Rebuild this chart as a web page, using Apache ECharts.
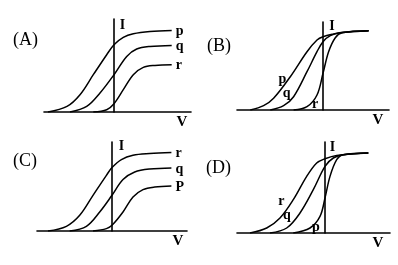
<!DOCTYPE html>
<html>
<head>
<meta charset="utf-8">
<script src="https://cdn.jsdelivr.net/npm/echarts@6/dist/echarts.min.js"></script>
<style>html,body{margin:0;padding:0;background:#fff}#c{width:398px;height:265px}</style>
</head>
<body>
<div id="c"></div>
<script>
// Panel titles
var panelTitles = ['(A)', '(B)', '(C)', '(D)'];
// Curve names per panel
var namesA = ['p', 'q', 'r'];
var namesB = ['p', 'q', 'r'];
var namesC = ['r', 'q', 'P'];
var namesD = ['r', 'q', 'p'];
// Curves, [V, I] in arbitrary units
var aP = [[-6.6,0],[-4.7,0.56],[-3.4,1.73],[-2.07,3.73],[-0.73,5.73],[0,6.73],[0.93,7.46],[1.93,7.83],[3.6,8.06],[5.77,8.16]];
var aQ = [[-4.4,0],[-2.73,0.56],[-1.4,1.9],[0,3.73],[1.27,5.56],[2.27,6.3],[3.6,6.56],[5.77,6.66]];
var aR = [[-2.07,0],[-0.73,0.23],[0,0.83],[0.93,2.23],[1.93,3.73],[2.93,4.46],[4.1,4.66],[5.77,4.73]];

var bP = [[-7.27,0],[-5.94,0.43],[-4.94,1.17],[-3.27,3.33],[-1.6,5.83],[-0.6,7.0],[0,7.33],[1.06,7.6],[2.06,7.77],[4.56,7.93]];
var bQ = [[-5.27,0],[-3.94,0.43],[-2.94,1.33],[-1.6,3.83],[-0.6,5.83],[0,6.83],[0.73,7.43],[1.73,7.73],[4.56,7.93]];
var bR = [[-2.94,0],[-1.6,0.33],[-0.6,1.5],[0,3.67],[0.56,5.83],[1.23,7.23],[1.9,7.73],[4.56,7.93]];

var cR = [[-6.4,0],[-4.56,0.47],[-3.23,1.57],[-1.9,3.57],[-0.56,5.57],[0,6.34],[0.94,7.14],[2.1,7.57],[3.77,7.74],[5.94,7.84]];
var cQ = [[-4.23,0],[-2.56,0.47],[-1.23,1.9],[0,3.57],[1.1,5.14],[2.27,5.9],[3.77,6.2],[5.94,6.3]];
var cP = [[-1.9,0],[-0.56,0.24],[0,0.57],[1.1,1.9],[2.1,3.4],[3.1,4.14],[4.27,4.4],[5.94,4.5]];

var dR = [[-7.5,0],[-5.83,0.5],[-4.5,1.5],[-3.17,3.33],[-1.83,5.66],[-0.83,7.0],[0,7.43],[1.17,7.76],[4.33,8.0]];
var dQ = [[-5.5,0],[-3.83,0.5],[-2.5,2.0],[-1.17,4.33],[0,6.66],[0.83,7.5],[1.83,7.83],[4.33,8.0]];
var dP = [[-3.17,0],[-1.5,0.5],[-0.5,1.66],[0,3.5],[0.5,5.66],[1.17,7.33],[1.83,7.83],[4.33,8.0]];

var SERIF = 'Liberation Serif';

var grids = [
  {left: 44, top: 19, width: 147, height: 93},
  {left: 237, top: 22, width: 152, height: 88},
  {left: 37, top: 142, width: 150, height: 89},
  {left: 237, top: 142, width: 153, height: 91}
];
var xr = [[-7.0, 7.7], [-8.6, 6.6], [-7.5, 7.5], [-8.8, 6.5]];
var yr = [9.3, 8.8, 8.9, 9.1];
var vGap = [-9, -11, -9, -12];
var iPad = [[0,0,0,17],[0,0,0,18],[0,0,0,19],[0,0,0,15]];
var iGap = [1, 3, 3, 2];

var xAxes = [], yAxes = [];
for (var i = 0; i < 4; i++) {
  xAxes.push({
    type: 'value', gridIndex: i, min: xr[i][0], max: xr[i][1],
    axisLine: {show: true, onZero: false, lineStyle: {color: '#000', width: 1.6}},
    axisTick: {show: false}, axisLabel: {show: false}, splitLine: {show: false},
    name: 'V', nameLocation: 'end', nameGap: vGap[i],
    nameTextStyle: {fontFamily: SERIF, fontWeight: 'bold', fontSize: 15, color: '#000',
      align: 'center', verticalAlign: 'top', padding: [3, 0, 0, 0]}
  });
  yAxes.push({
    type: 'value', gridIndex: i, min: 0, max: yr[i],
    axisLine: {show: true, onZero: true, lineStyle: {color: '#000', width: 1.6}},
    axisTick: {show: false}, axisLabel: {show: false}, splitLine: {show: false},
    name: 'I', nameLocation: 'end', nameGap: iGap[i],
    nameTextStyle: {fontFamily: SERIF, fontWeight: 'bold', fontSize: 14, color: '#000',
      align: 'center', verticalAlign: 'top', padding: iPad[i]}
  });
}

function curve(gi, name, data, extra) {
  var s = {
    type: 'line', name: name, xAxisIndex: gi, yAxisIndex: gi, data: data,
    smooth: 0.35, showSymbol: false, symbol: 'none',
    lineStyle: {color: '#000', width: 1.5}, silent: true
  };
  for (var k in extra) s[k] = extra[k];
  return s;
}
function endLbl() {
  return {endLabel: {show: true, formatter: '{a}', distance: 4, offset: [0, 1],
    fontFamily: SERIF, fontWeight: 'bold', fontSize: 14, color: '#000'}};
}
function mark(pt, off) {
  return {markPoint: {symbol: 'circle', symbolSize: 0, silent: true,
    data: [{coord: pt}],
    label: {show: true, position: 'inside', formatter: '{a}', offset: off,
      fontFamily: SERIF, fontWeight: 'bold', fontSize: 14, color: '#000'}}};
}

var series = [
  curve(0, namesA[0], aP, endLbl()),
  curve(0, namesA[1], aQ, endLbl()),
  curve(0, namesA[2], aR, endLbl()),
  curve(1, namesB[0], bP, mark(bP[3], [-8, 3])),
  curve(1, namesB[1], bQ, mark(bQ[2], [-7, -3])),
  curve(1, namesB[2], bR, mark(bR[1], [8, -2])),
  curve(2, namesC[0], cR, endLbl()),
  curve(2, namesC[1], cQ, endLbl()),
  curve(2, namesC[2], cP, endLbl()),
  curve(3, namesD[0], dR, mark(dR[3], [-12, 2])),
  curve(3, namesD[1], dQ, mark(dQ[2], [-13, 2])),
  curve(3, namesD[2], dP, mark(dP[1], [6, -1]))
];

var titlePos = [[13, 31], [207, 37], [13, 152], [206, 159]];
var titles = panelTitles.map(function (t, i) {
  return {text: t, left: titlePos[i][0], top: titlePos[i][1], padding: 0,
    textStyle: {fontFamily: SERIF, fontWeight: 'normal', fontSize: 18, color: '#000'}};
});

var chart = echarts.init(document.getElementById('c'), null, {renderer: 'canvas'});
chart.setOption({
  animation: false,
  backgroundColor: '#fff',
  title: titles,
  grid: grids,
  xAxis: xAxes,
  yAxis: yAxes,
  series: series
});
</script>
</body>
</html>
